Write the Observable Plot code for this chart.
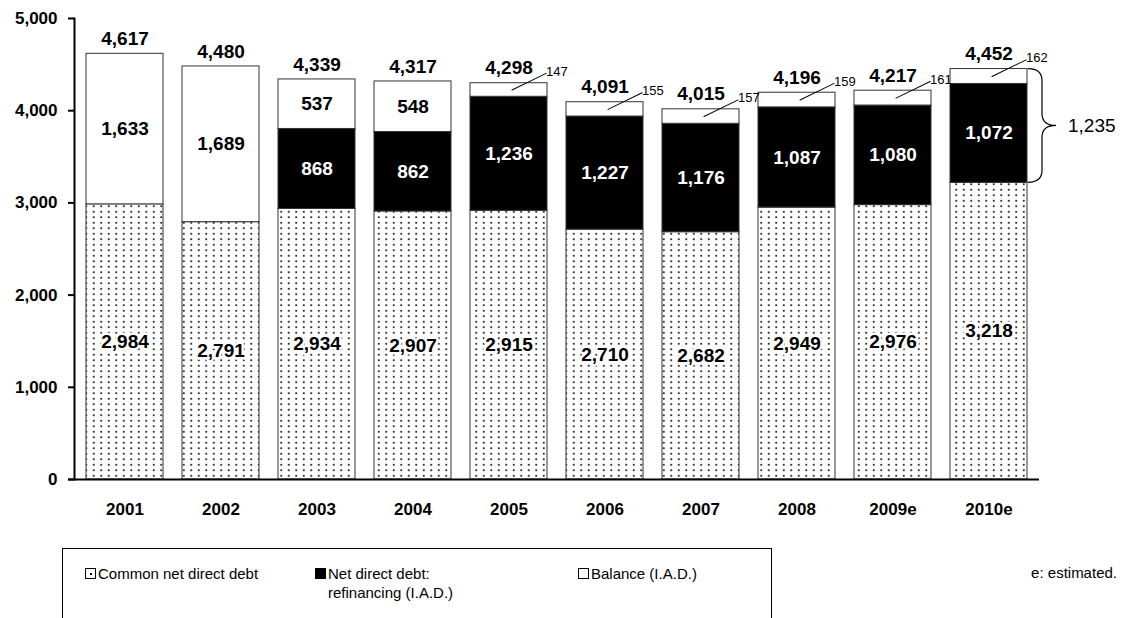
<!DOCTYPE html>
<html>
<head>
<meta charset="utf-8">
<script src="https://cdn.jsdelivr.net/npm/d3@7"></script>
<script src="https://cdn.jsdelivr.net/npm/@observablehq/plot@0.6"></script>
<style>
  html, body { margin: 0; padding: 0; background: #fff; }
  #page { position: relative; width: 1123px; height: 618px; overflow: hidden; font-family: "Liberation Sans", Arial, sans-serif; }
  #legend { position: absolute; left: 62px; top: 548px; width: 708px; height: 90px; border: 1px solid #000; border-bottom: none; }
  .item { position: absolute; top: 15px; font-size: 15px; line-height: 19px; color: #000; white-space: nowrap; }
  .sw { position: absolute; left: -13px; top: 4px; width: 9px; height: 9px; border: 1px solid #000; background: #fff; box-sizing: content-box; }
  .sw.dot::after { content: ""; position: absolute; left: 3.5px; top: 3.5px; width: 2px; height: 2px; background: #000; }
  .sw.black { background: #000; }
  #note { position: absolute; right: 6px; top: 564px; font-size: 15px; color: #000; white-space: nowrap; }
</style>
</head>
<body>
<div id="page">
  <div id="chart"></div>
  <div id="legend"></div>
  <div id="note"></div>
</div>
<script>
const years = ["2001", "2002", "2003", "2004", "2005", "2006", "2007", "2008", "2009e", "2010e"];
const commonDebt = [2984, 2791, 2934, 2907, 2915, 2710, 2682, 2949, 2976, 3218];
const refinancing = [0, 0, 868, 862, 1236, 1227, 1176, 1087, 1080, 1072];
const balance = [1633, 1689, 537, 548, 147, 155, 157, 159, 161, 162];
const totals = [4617, 4480, 4339, 4317, 4298, 4091, 4015, 4196, 4217, 4452];
const bracketYear = "2010e";
const bracketLabel = "1,235";
const yTicks = [0, 1000, 2000, 3000, 4000, 5000];
const seriesKeys = ["common", "refi", "balance"];
const seriesLabels = ["Common net direct debt", "Net direct debt:<br>refinancing (I.A.D.)", "Balance (I.A.D.)"];
const noteText = "e: estimated.";

const fmt = d3.format(",");
const rows = [];
years.forEach((year, i) => {
  const vals = [commonDebt[i], refinancing[i], balance[i]];
  let lo = 0;
  vals.forEach((v, k) => {
    rows.push({year, series: seriesKeys[k], value: v, lo, hi: lo + v, mid: lo + v / 2, total: totals[i]});
    lo += v;
  });
});
const commonRows = rows.filter(d => d.series === "common");
const refiRows = rows.filter(d => d.series === "refi" && d.value > 0);
const balInside = rows.filter(d => d.series === "balance" && d.value >= 300);
const balOutside = rows.filter(d => d.series === "balance" && d.value < 300);
const totalRows = years.map((year, i) => ({year, total: totals[i]}));
const bracket = rows.filter(d => d.year === bracketYear);
const bracketLo = bracket[0].hi, bracketHi = bracket[2].hi;

const font = "'Liberation Sans', Arial, sans-serif";

const chart = Plot.plot({
  width: 1123,
  height: 530,
  marginTop: 18,
  marginBottom: 51,
  marginLeft: 74,
  marginRight: 84,
  style: {fontFamily: font, background: "#fff", color: "#000", overflow: "visible"},
  x: {domain: years, paddingInner: 0.2, paddingOuter: 0.1, label: null},
  y: {domain: [0, 5000], label: null},
  color: {domain: seriesKeys, range: ["url(#dots)", "#000", "#fff"]},
  marks: [
    Plot.barY(rows, {x: "year", y1: "lo", y2: "hi", fill: "series", stroke: "#333", strokeWidth: 1}),
    Plot.axisY({ticks: yTicks, tickFormat: fmt, tickSize: 6, tickPadding: 11, fontSize: 17, fontWeight: "bold", strokeWidth: 2, label: null}),
    Plot.axisX({tickSize: 0, tickPadding: 23, fontSize: 17, fontWeight: "bold", label: null}),
    Plot.frame({anchor: "left", strokeWidth: 2}),
    Plot.ruleY([0], {strokeWidth: 2, insetLeft: -6}),
    Plot.text(commonRows, {x: "year", y: "mid", text: d => fmt(d.value), fontSize: 19, fontWeight: "bold", fill: "#000", stroke: "#fff", strokeWidth: 5, paintOrder: "stroke"}),
    Plot.text(refiRows, {x: "year", y: "mid", text: d => fmt(d.value), fontSize: 19, fontWeight: "bold", fill: "#fff"}),
    Plot.text(balInside, {x: "year", y: "mid", text: d => fmt(d.value), fontSize: 19, fontWeight: "bold", fill: "#000"}),
    Plot.text(totalRows, {x: "year", y: "total", text: d => fmt(d.total), fontSize: 19, fontWeight: "bold", fill: "#000", dy: -15}),
    Plot.vector(balOutside, {
      x: "year", y: "mid", length: 38, rotate: 64, anchor: "start", dx: 3, stroke: "#000", strokeWidth: 1,
      shape: {draw(context, l) { context.moveTo(0, 0); context.lineTo(0, -l); }}
    }),
    Plot.text(balOutside, {x: "year", y: "total", text: d => fmt(d.value), fontSize: 13, fill: "#000", textAnchor: "start", dx: 37, dy: -11})
  ]
});

const svg = chart.tagName.toLowerCase() === "svg" ? chart : chart.querySelector("svg");
const ns = "http://www.w3.org/2000/svg";

// dotted fill pattern
const defs = document.createElementNS(ns, "defs");
const pat = document.createElementNS(ns, "pattern");
pat.setAttribute("id", "dots");
pat.setAttribute("patternUnits", "userSpaceOnUse");
pat.setAttribute("width", "7.5");
pat.setAttribute("height", "5.5");
const bg = document.createElementNS(ns, "rect");
bg.setAttribute("width", "7.5"); bg.setAttribute("height", "5.5"); bg.setAttribute("fill", "#fff");
pat.appendChild(bg);
const dot = document.createElementNS(ns, "circle");
dot.setAttribute("cx", "3.75"); dot.setAttribute("cy", "2.75"); dot.setAttribute("r", "1"); dot.setAttribute("fill", "#000");
pat.appendChild(dot);
defs.appendChild(pat);
svg.insertBefore(defs, svg.firstChild);

// curly brace annotation, positioned with the plot's own scales
const sx = chart.scale("x"), sy = chart.scale("y");
const x0 = sx.apply(bracketYear) + sx.bandwidth + 1;
const yT = sy.apply(bracketHi), yB = sy.apply(bracketLo), yM = (yT + yB) / 2;
const h = 14, w = 28, r = 12;
const brace = document.createElementNS(ns, "path");
brace.setAttribute("d", `M${x0},${yT} Q${x0 + h},${yT} ${x0 + h},${yT + r} L${x0 + h},${yM - r} Q${x0 + h},${yM} ${x0 + w},${yM} Q${x0 + h},${yM} ${x0 + h},${yM + r} L${x0 + h},${yB - r} Q${x0 + h},${yB} ${x0},${yB}`);
brace.setAttribute("fill", "none");
brace.setAttribute("stroke", "#000");
brace.setAttribute("stroke-width", "1.2");
svg.appendChild(brace);
const bt = document.createElementNS(ns, "text");
bt.setAttribute("x", x0 + w + 12);
bt.setAttribute("y", yM);
bt.setAttribute("dy", "0.35em");
bt.setAttribute("text-anchor", "start");
bt.setAttribute("font-size", "19");
bt.setAttribute("font-family", font);
bt.setAttribute("fill", "#000");
bt.textContent = bracketLabel;
svg.appendChild(bt);

document.getElementById("chart").appendChild(chart);

const legend = document.getElementById("legend");
const itemLeft = [35, 265, 528];
const swClass = ["dot", "black", ""];
seriesLabels.forEach((lab, k) => {
  const div = document.createElement("div");
  div.className = "item";
  div.style.left = itemLeft[k] + "px";
  div.innerHTML = `<span class="sw ${swClass[k]}"></span>${lab}`;
  legend.appendChild(div);
});
document.getElementById("note").textContent = noteText;
</script>
</body>
</html>
